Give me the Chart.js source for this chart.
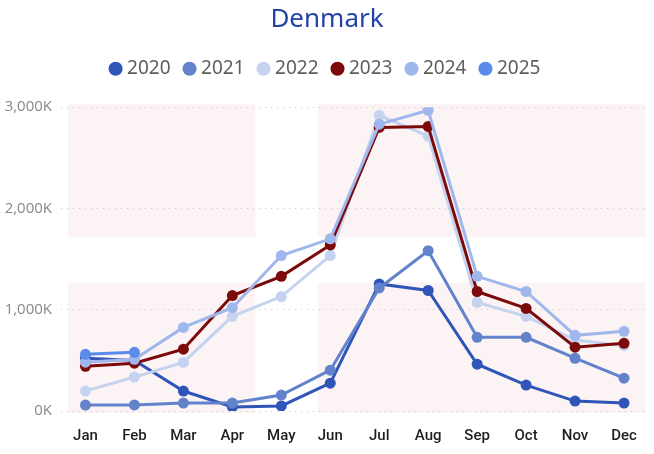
<!DOCTYPE html>
<html>
<head>
<meta charset="utf-8">
<script src="https://cdn.jsdelivr.net/npm/chart.js@4/dist/chart.umd.min.js"></script>
<style>
  html, body { margin: 0; padding: 0; background: #ffffff; }
  #wrap { width: 654px; height: 454px; position: relative; }
</style>
</head>
<body>
<div id="wrap"><canvas id="c" width="654" height="454"></canvas></div>
<script>
const months = ['Jan','Feb','Mar','Apr','May','Jun','Jul','Aug','Sep','Oct','Nov','Dec'];
const years = ['2020','2021','2022','2023','2024','2025'];
const colors = ['#2f55b8','#6283cb','#c5d3f0','#7d0a0a','#9fb7ec','#5a8aea'];
const yTickLabels = ['0K','1,000K','2,000K','3,000K'];

// values in thousands
const v2020 = [520, 500, 197, 40, 50, 275, 1255, 1190, 462, 256, 98, 78];
const v2021 = [59, 60, 78, 78, 157, 403, 1215, 1583, 728, 728, 521, 324];
const v2022 = [197, 335, 480, 935, 1130, 1535, 2920, 2715, 1072, 934, 700, 645];
const v2023 = [442, 472, 610, 1140, 1330, 1640, 2800, 2810, 1180, 1013, 630, 668];
const v2024 = [482, 511, 825, 1020, 1535, 1700, 2832, 2970, 1330, 1180, 747, 787];
const v2025 = [560, 580, null, null, null, null, null, null, null, null, null, null];
const series = [v2020, v2021, v2022, v2023, v2024, v2025];

const flagBg = {
  id: 'flagBg',
  beforeDraw(chart) {
    const a = chart.chartArea, ctx = chart.ctx;
    const W = a.right - a.left, H = a.bottom - a.top;
    ctx.save();
    ctx.fillStyle = '#fcf3f4';
    const x0 = a.left + W * 0.012, x1 = a.left + W * 0.331;
    const x2 = a.left + W * 0.437, x3 = a.right - 3;
    const y0 = a.top - 3, y1 = a.top + H * 0.427;
    const y2 = a.top + H * 0.577, y3 = a.bottom + 2;
    ctx.fillRect(x0, y0, x1 - x0, y1 - y0);
    ctx.fillRect(x2, y0, x3 - x2, y1 - y0);
    ctx.fillRect(x0, y2, x1 - x0, y3 - y2);
    ctx.fillRect(x2, y2, x3 - x2, y3 - y2);
    ctx.restore();
  }
};

const legendGap = {
  id: 'legendGap',
  afterInit(chart) {
    const lg = chart.legend;
    if (lg && !lg._gapPatched) {
      const orig = lg.fit;
      lg.fit = function () { orig.call(this); this.height += 19; };
      lg._gapPatched = true;
    }
  }
};

new Chart(document.getElementById('c'), {
  type: 'line',
  data: {
    labels: months,
    datasets: years.map((y, i) => ({
      label: y,
      data: series[i],
      borderColor: colors[i],
      backgroundColor: colors[i],
      pointBackgroundColor: colors[i],
      pointBorderWidth: 0,
      pointRadius: 5.5,
      pointHoverRadius: 5.5,
      borderWidth: 3,
      tension: 0,
      spanGaps: false,
      order: years.length - 1 - i
    }))
  },
  options: {
    responsive: false,
    animation: false,
    events: [],
    layout: { padding: { left: 0, right: 0, top: 0, bottom: 0 } },
    plugins: {
      title: {
        display: true,
        text: 'Denmark',
        color: '#2442aa',
        font: { family: 'Noto Sans', size: 26, weight: 'normal' },
        padding: { top: 4, bottom: 7 }
      },
      legend: {
        display: true,
        position: 'top',
        labels: {
          usePointStyle: true,
          pointStyle: 'circle',
          boxWidth: 4,
          boxHeight: 10,
          padding: 17,
          color: '#605e5c',
          font: { family: 'Noto Sans', size: 19 },
          sort: (a, b) => a.datasetIndex - b.datasetIndex
        }
      },
      tooltip: { enabled: false }
    },
    scales: {
      x: {
        offset: true,
        grid: { display: false, drawTicks: false },
        border: { display: false },
        ticks: {
          color: '#201f1e',
          padding: 16,
          font: { family: 'Roboto', size: 15, weight: '500' },
          maxRotation: 0
        },
        afterFit(s) { s.height = 43; }
      },
      y: {
        min: 0,
        max: 3000,
        grid: { color: '#c8c8c8', lineWidth: 1, drawTicks: false },
        border: { display: false, dash: [1, 5] },
        ticks: {
          stepSize: 1000,
          color: '#8a8886',
          padding: 9,
          font: { family: 'Open Sans', size: 15 },
          callback: (v, i) => yTickLabels[i]
        },
        afterFit(s) { s.width = 61; }
      }
    }
  },
  plugins: [flagBg, legendGap]
});
</script>
</body>
</html>
